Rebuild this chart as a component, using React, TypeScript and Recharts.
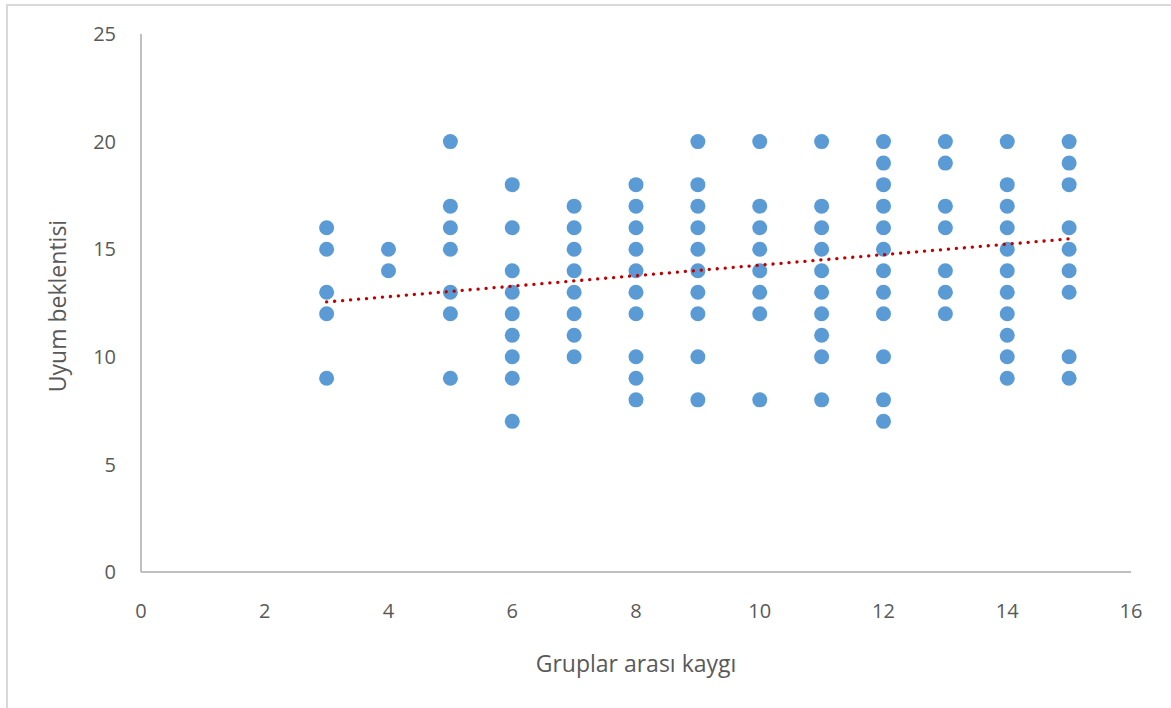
import React from 'react';
import { ScatterChart, Scatter, XAxis, YAxis, Label } from 'recharts';

// x categories (Gruplar arası kaygı) and the y values observed at each
const xValues = [3, 4, 5, 6, 7, 8, 9, 10, 11, 12, 13, 14, 15];
const yAt3 = [16, 15, 13, 12, 9];
const yAt4 = [15, 14];
const yAt5 = [20, 17, 16, 15, 13, 12, 9];
const yAt6 = [18, 16, 14, 13, 12, 11, 10, 9, 7];
const yAt7 = [17, 16, 15, 14, 13, 12, 11, 10];
const yAt8 = [18, 17, 16, 15, 14, 13, 12, 10, 9, 8];
const yAt9 = [20, 18, 17, 16, 15, 14, 13, 12, 10, 8];
const yAt10 = [20, 17, 16, 15, 14, 13, 12, 8];
const yAt11 = [20, 17, 16, 15, 14, 13, 12, 11, 10, 8];
const yAt12 = [20, 19, 18, 17, 16, 15, 14, 13, 12, 10, 8, 7];
const yAt13 = [20, 19, 17, 16, 14, 13, 12];
const yAt14 = [20, 18, 17, 16, 15, 14, 13, 12, 11, 10, 9];
const yAt15 = [20, 19, 18, 16, 15, 14, 13, 10, 9];
const yColumns = [yAt3, yAt4, yAt5, yAt6, yAt7, yAt8, yAt9, yAt10, yAt11, yAt12, yAt13, yAt14, yAt15];

// linear trend line endpoints
const trendX = [3, 15];
const trendY = [12.55, 15.48];

const xTicks = [0, 2, 4, 6, 8, 10, 12, 14, 16];
const yTicks = [0, 5, 10, 15, 20, 25];

const points = xValues.flatMap((x, i) => yColumns[i].map((y) => ({ x, y })));
const trendData = trendX.map((x, i) => ({ x, y: trendY[i] }));

const FONT = "'Open Sans', sans-serif";

const YTitle = (props: any) => {
  const vb = props.viewBox || {};
  const cy = (vb.y ?? 34) + (vb.height ?? 538) / 2 + 3;
  const cx = 66;
  return (
    <text
      x={cx}
      y={cy}
      transform={`rotate(-90 ${cx} ${cy})`}
      textAnchor="middle"
      fill="#595959"
      fontSize={23}
      fontFamily={FONT}
    >
      Uyum beklentisi
    </text>
  );
};

export default function App() {
  return (
    <div
      style={{
        position: 'absolute',
        left: 0,
        top: 0,
        width: 1171,
        height: 708,
        overflow: 'hidden',
        background: '#fff',
      }}
    >
      <div
        style={{
          position: 'absolute',
          left: 6,
          top: 4,
          width: 1300,
          height: 900,
          borderLeft: '2px solid #d9d9d9',
          borderTop: '2px solid #d9d9d9',
        }}
      />
      <div style={{ position: 'absolute', left: 0, top: 0 }}>
        <ScatterChart
          width={1171}
          height={708}
          margin={{ top: 34, right: 40, bottom: 106, left: 81 }}
        >
          <XAxis
            type="number"
            dataKey="x"
            domain={[0, 16]}
            ticks={xTicks}
            interval={0}
            height={30}
            tickLine={false}
            tickSize={0}
            tickMargin={32}
            axisLine={{ stroke: '#bfbfbf', strokeWidth: 2 }}
            tick={{ fill: '#595959', fontSize: 20, fontFamily: FONT }}
          >
            <Label
              value="Gruplar arası kaygı"
              position="bottom"
              offset={54}
              fill="#595959"
              fontSize={23}
              fontFamily={FONT}
            />
          </XAxis>
          <YAxis
            type="number"
            dataKey="y"
            domain={[0, 25]}
            ticks={yTicks}
            interval={0}
            width={60}
            tickLine={false}
            tickSize={0}
            tickMargin={25}
            axisLine={{ stroke: '#bfbfbf', strokeWidth: 2 }}
            tick={{ fill: '#595959', fontSize: 20, fontFamily: FONT }}
          >
            <Label content={<YTitle />} />
          </YAxis>
          <Scatter
            data={points}
            fill="#5B9BD5"
            isAnimationActive={false}
            shape={(p: any) => <circle cx={p.cx} cy={p.cy} r={7.5} fill="#5B9BD5" />}
          />
          <Scatter
            data={trendData}
            isAnimationActive={false}
            line={{
              stroke: '#C00000',
              strokeWidth: 3.3,
              strokeDasharray: '0.1 7.9',
              strokeLinecap: 'round',
            }}
            shape={() => <g />}
          />
        </ScatterChart>
      </div>
    </div>
  );
}
